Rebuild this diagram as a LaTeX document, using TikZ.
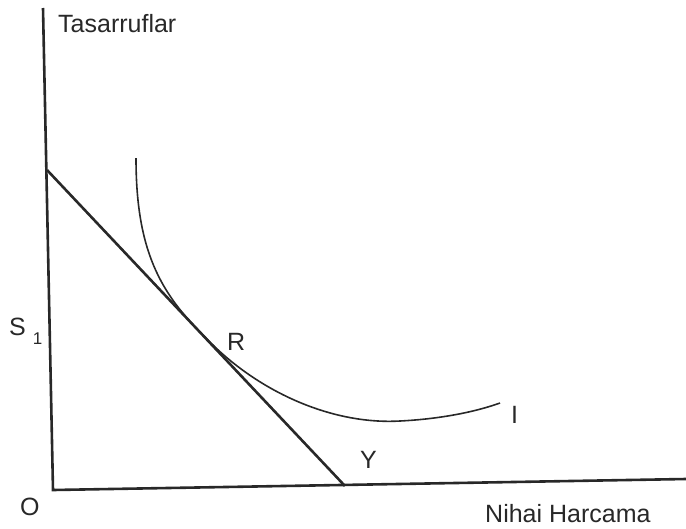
\documentclass[tikz,border=0pt]{standalone}
\usepackage{fontspec}
\setmainfont{Liberation Sans}
\definecolor{inkgray}{RGB}{40,40,40}

\begin{document}
\begin{tikzpicture}[x=1pt,y=-1pt,
    lbl/.style={font=\fontsize{25}{30}\selectfont, text=inkgray, inner sep=0pt, anchor=base west}]
        \useasboundingbox (0,0) rectangle (686,528);
        % Axes
        \coordinate (O) at (53,490);
        \coordinate (ytop) at (43,8);
        \coordinate (xend) at (686,479);
        \draw[inkgray, line width=2.6pt] (ytop) -- (O) -- (xend);
        % Budget line
        \coordinate (bs) at (47,170);
        \coordinate (by) at (345,486);
        \draw[inkgray, line width=2.6pt] (bs) -- (by);
        % Indifference curve, tangent at R
        \coordinate (ia) at (136,158);
        \coordinate (tr) at (205,337);
        \coordinate (imin) at (400,421);
        \coordinate (ib) at (500,403);
        \draw[inkgray, line width=1.6pt] (ia) .. controls (136,250) and (160,293) .. (tr)
            .. controls (255,390) and (330,425) .. (imin)
            .. controls (440,419) and (475,412) .. (ib);
        % Labels
        \node[lbl] (tas) at (58,32) {Tasarruflar};
        \node[lbl] (s1) at (9,335) {S\kern7pt\raisebox{-9pt}{\fontsize{17}{17}\selectfont 1}};
        \node[lbl] (rlbl) at (227,350) {R};
        \node[lbl] (olbl) at (20,515) {O};
        \node[lbl] (ylbl) at (360,468) {Y};
        \node[lbl] (ilbl) at (511,423) {I};
        \node[lbl] (nih) at (485,522) {Nihai Harcama};
    \end{tikzpicture}
\end{document}
